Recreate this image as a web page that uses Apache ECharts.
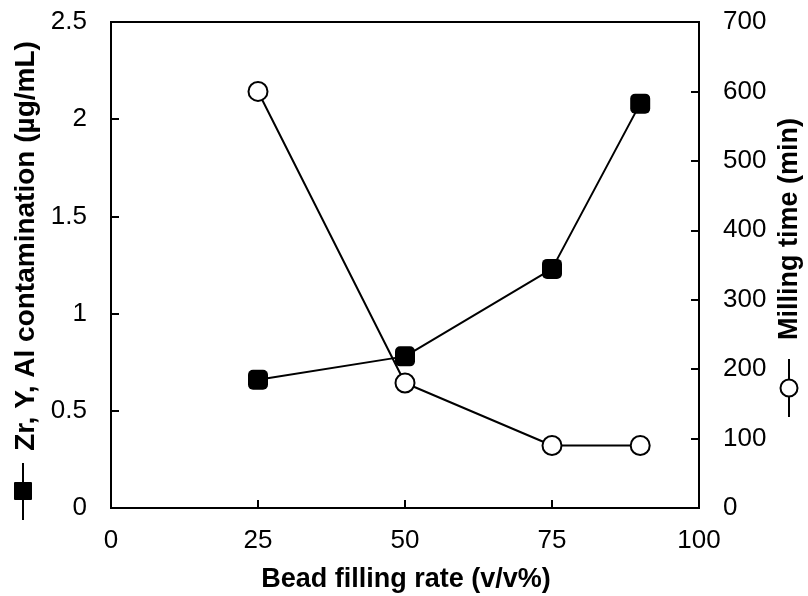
<!DOCTYPE html>
<html>
<head>
<meta charset="utf-8">
<script src="https://cdn.jsdelivr.net/npm/echarts@6/dist/echarts.min.js"></script>
<style>
  html, body { margin: 0; padding: 0; background: #fff; }
  #chart { width: 808px; height: 596px; }
</style>
</head>
<body>
<div id="chart"></div>
<script>
// Bead filling rate (v/v%) on the x axis
const fillRate = [25, 50, 75, 90];
// Zr, Y, Al contamination (µg/mL), left axis
const contamination = [0.66, 0.78, 1.23, 2.08];
// Milling time (min), right axis
const millingTime = [600, 180, 90, 90];

const xTicks = [0, 25, 50, 75, 100];
const leftTicks = [0, 0.5, 1, 1.5, 2, 2.5];
const rightTicks = [0, 100, 200, 300, 400, 500, 600, 700];

const FONT = '"Liberation Sans", Arial, sans-serif';
const tickLabel = { color: '#000', fontFamily: FONT, fontSize: 26 };
const axisLine = { show: true, onZero: false, lineStyle: { color: '#000', width: 2 } };
const axisTick = { show: true, inside: true, length: 8, lineStyle: { color: '#000', width: 2 } };

const chart = echarts.init(document.getElementById('chart'), null, { renderer: 'canvas' });

chart.setOption({
  animation: false,
  backgroundColor: '#fff',
  grid: {
    left: 111, right: 109, top: 22, bottom: 88,
    show: true, borderColor: '#000', borderWidth: 2, backgroundColor: 'transparent'
  },
  xAxis: {
    type: 'value',
    min: xTicks[0], max: xTicks[xTicks.length - 1], interval: 25,
    axisLine, axisTick,
    splitLine: { show: false },
    axisLabel: Object.assign({ margin: 20 }, tickLabel)
  },
  yAxis: [
    {
      type: 'value', position: 'left',
      min: leftTicks[0], max: leftTicks[leftTicks.length - 1], interval: 0.5,
      axisLine, axisTick,
      splitLine: { show: false },
      axisLabel: Object.assign({ margin: 24 }, tickLabel)
    },
    {
      type: 'value', position: 'right',
      min: rightTicks[0], max: rightTicks[rightTicks.length - 1], interval: 100,
      axisLine, axisTick,
      splitLine: { show: false },
      axisLabel: Object.assign({ margin: 24 }, tickLabel)
    }
  ],
  series: [
    {
      name: 'Milling time (min)',
      type: 'line',
      yAxisIndex: 1,
      data: fillRate.map((x, i) => [x, millingTime[i]]),
      symbol: 'circle', symbolSize: 19,
      lineStyle: { color: '#000', width: 2 },
      itemStyle: { color: '#fff', borderColor: '#000', borderWidth: 2 },
      z: 2
    },
    {
      name: 'Zr, Y, Al contamination (µg/mL)',
      type: 'line',
      yAxisIndex: 0,
      data: fillRate.map((x, i) => [x, contamination[i]]),
      symbol: 'roundRect', symbolSize: 20,
      lineStyle: { color: '#000', width: 2 },
      itemStyle: { color: '#000', borderColor: '#000', borderWidth: 0 },
      z: 3
    }
  ],
  graphic: [
    // x-axis title
    {
      type: 'text', x: 406, y: 580,
      style: { text: 'Bead filling rate (v/v%)', font: 'bold 27px ' + FONT, fill: '#000', align: 'center', verticalAlign: 'middle' }
    },
    // left axis title with its series key
    {
      type: 'text', x: 26, y: 246, rotation: Math.PI / 2,
      style: { text: 'Zr, Y, Al contamination (µg/mL)', font: 'bold 28px ' + FONT, fill: '#000', align: 'center', verticalAlign: 'middle' }
    },
    { type: 'line', shape: { x1: 23, y1: 463, x2: 23, y2: 520 }, style: { stroke: '#000', lineWidth: 2 } },
    { type: 'rect', shape: { x: 14, y: 482, width: 18, height: 18, r: 1 }, style: { fill: '#000' } },
    // right axis title with its series key
    {
      type: 'text', x: 790, y: 229, rotation: Math.PI / 2,
      style: { text: 'Milling time (min)', font: 'bold 27px ' + FONT, fill: '#000', align: 'center', verticalAlign: 'middle' }
    },
    { type: 'line', shape: { x1: 789, y1: 359, x2: 789, y2: 417 }, style: { stroke: '#000', lineWidth: 2 } },
    { type: 'circle', shape: { cx: 789, cy: 388, r: 8.5 }, style: { fill: '#fff', stroke: '#000', lineWidth: 2 } }
  ]
});
</script>
</body>
</html>
